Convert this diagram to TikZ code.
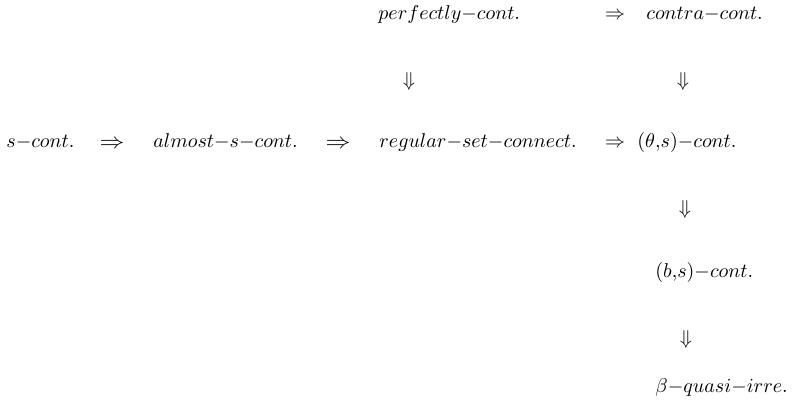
\documentclass[tikz,border=0pt]{standalone}
\begin{document}
\begin{tikzpicture}[x=0.5pt,y=-0.5pt,
  term/.style={anchor=base west,inner sep=0pt,font=\normalsize},
  imp/.style={anchor=center,inner sep=0pt}]
\useasboundingbox (0,0) rectangle (797,410);
% row 1
\node[term] (pc) at (378,20) {$perfectly{-}cont.$};
\node[imp]  (i1) at (615,16) {$\Rightarrow$};
\node[term] (cc) at (646,20) {$contra{-}cont.$};
% down arrows row 2
\node[imp] (d1) at (409,82) {$\Downarrow$};
\node[imp] (d2) at (683,82) {$\Downarrow$};
% row 3
\node[term] (sc) at (6,148) {$s{-}cont.$};
\node[imp]  (i2) at (112,144) {\scalebox{1.25}[1.1]{$\Rightarrow$}};
\node[term] (as) at (153,148) {$almost{-}s{-}cont.$};
\node[imp]  (i3) at (338,144) {\scalebox{1.25}[1.1]{$\Rightarrow$}};
\node[term] (rs) at (379,148) {$regular{-}set{-}connect.$};
\node[imp]  (i4) at (615,144) {$\Rightarrow$};
\node[term] (ts) at (637,148) {$(\theta{,}s){-}cont.$};
% column
\node[imp] (d3) at (685,210) {$\Downarrow$};
\node[term] (bs) at (655,278) {$(b{,}s){-}cont.$};
\node[imp] (d4) at (686,340) {$\Downarrow$};
\node[term] (bq) at (655,393) {$\beta{-}quasi{-}irre.$};
\end{tikzpicture}
\end{document}
